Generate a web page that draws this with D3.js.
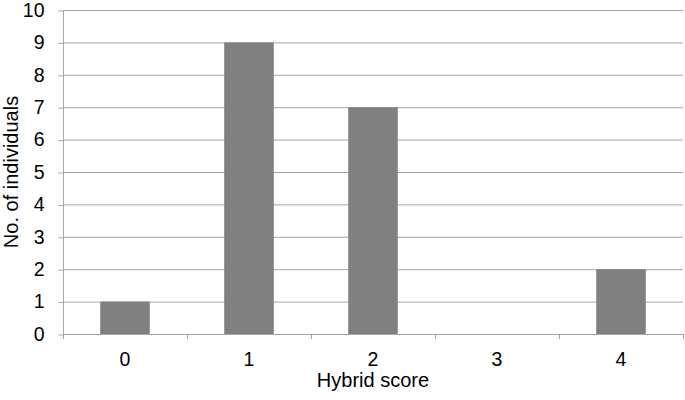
<!DOCTYPE html>
<html>
<head>
<meta charset="utf-8">
<script src="https://cdn.jsdelivr.net/npm/d3@7"></script>
<style>
  body { margin: 0; background: #fff; }
  text { font-family: "Liberation Sans", Arial, sans-serif; fill: #000; }
</style>
</head>
<body>
<div id="chart"></div>
<script>
const FRAME_WIDTH = 685;
const FRAME_HEIGHT = 400;
const MARGINS = {left: 63, right: 2, top: 10, bottom: 66};

const VIS_WIDTH = FRAME_WIDTH - MARGINS.left - MARGINS.right;
const VIS_HEIGHT = FRAME_HEIGHT - MARGINS.top - MARGINS.bottom;

// data
const CATEGORIES = ["0", "1", "2", "3", "4"];
const COUNTS = [1, 9, 7, 0, 2];
const Y_TICKS = [0, 1, 2, 3, 4, 5, 6, 7, 8, 9, 10];

const BAR_COLOR = "#808080";
const GRID_COLOR = "#a6a6a6";

const FRAME = d3.select("#chart")
  .append("svg")
    .attr("width", FRAME_WIDTH)
    .attr("height", FRAME_HEIGHT);

const X_SCALE = d3.scaleBand()
  .domain(CATEGORIES)
  .range([0, VIS_WIDTH])
  .paddingInner(0.6)
  .paddingOuter(0.3);

const X_BAND = d3.scaleBand()
  .domain(CATEGORIES)
  .range([0, VIS_WIDTH]);

const Y_SCALE = d3.scaleLinear()
  .domain([0, 10])
  .range([VIS_HEIGHT, 0]);

const g = FRAME.append("g")
  .attr("transform", "translate(" + MARGINS.left + "," + MARGINS.top + ")");

// gridlines
g.append("g")
  .selectAll("line")
  .data(Y_TICKS.filter(d => d > 0))
  .enter()
  .append("line")
    .attr("x1", 0)
    .attr("x2", VIS_WIDTH)
    .attr("y1", d => Y_SCALE(d) + 0.5)
    .attr("y2", d => Y_SCALE(d) + 0.5)
    .attr("stroke", GRID_COLOR)
    .attr("stroke-width", 1);

// bars
g.selectAll("rect")
  .data(COUNTS)
  .enter()
  .append("rect")
    .attr("x", (d, i) => X_SCALE(CATEGORIES[i]))
    .attr("y", d => Y_SCALE(d))
    .attr("width", X_SCALE.bandwidth())
    .attr("height", d => VIS_HEIGHT - Y_SCALE(d))
    .style("fill", BAR_COLOR);

// y axis
const yAxis = g.append("g")
  .attr("transform", "translate(0.5,0)")
  .call(d3.axisLeft(Y_SCALE).tickValues(Y_TICKS).tickSize(5).tickPadding(14).tickFormat(d3.format("d")));
yAxis.selectAll("line").attr("stroke", GRID_COLOR).attr("transform", "translate(0,0.5)");
yAxis.select(".domain").attr("stroke", GRID_COLOR).attr("d", "M0,0V" + VIS_HEIGHT);
yAxis.selectAll("text").attr("font-size", "19.5px").attr("font-family", "Liberation Sans, Arial, sans-serif");

// x axis
const xAxis = g.append("g")
  .attr("transform", "translate(0," + (VIS_HEIGHT + 0.5) + ")")
  .call(d3.axisBottom(X_BAND).tickSize(0).tickPadding(18));
xAxis.select(".domain").attr("stroke", GRID_COLOR).attr("d", "M0,0H" + VIS_WIDTH);
xAxis.selectAll("text").attr("font-size", "19.5px").attr("font-family", "Liberation Sans, Arial, sans-serif");

// category boundary ticks
g.append("g")
  .selectAll("line")
  .data(CATEGORIES.concat(["end"]))
  .enter()
  .append("line")
    .attr("x1", (d, i) => (i < CATEGORIES.length ? X_BAND(d) : VIS_WIDTH) + 0.5)
    .attr("x2", (d, i) => (i < CATEGORIES.length ? X_BAND(d) : VIS_WIDTH) + 0.5)
    .attr("y1", VIS_HEIGHT)
    .attr("y2", VIS_HEIGHT + 5)
    .attr("stroke", GRID_COLOR);

// axis titles
FRAME.append("text")
  .attr("x", MARGINS.left + VIS_WIDTH / 2)
  .attr("y", 387)
  .attr("text-anchor", "middle")
  .attr("font-size", "20px")
  .text("Hybrid score");

FRAME.append("text")
  .attr("transform", "translate(18," + (MARGINS.top + VIS_HEIGHT / 2) + ") rotate(-90)")
  .attr("text-anchor", "middle")
  .attr("font-size", "20px")
  .text("No. of individuals");
</script>
</body>
</html>
